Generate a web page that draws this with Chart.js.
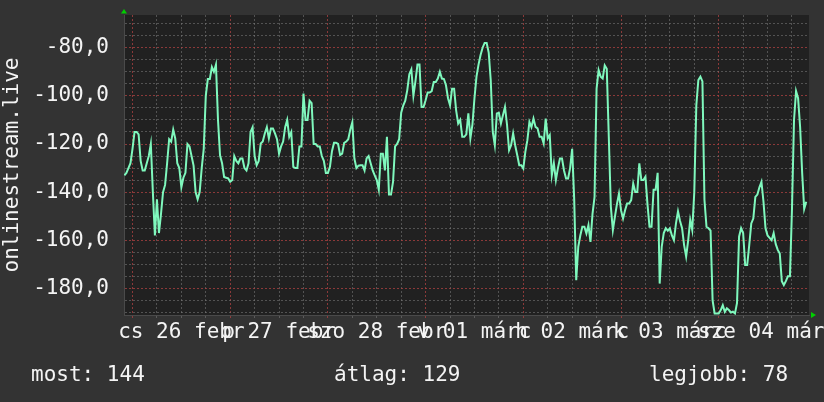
<!DOCTYPE html>
<html>
<head>
<meta charset="utf-8">
<script src="https://cdn.jsdelivr.net/npm/chart.js@4.4.1/dist/chart.umd.min.js"></script>
<style>
  html, body { margin: 0; padding: 0; background: #333333; }
  #wrap { width: 824px; height: 402px; }
</style>
</head>
<body>
<div id="wrap"><canvas id="ping" width="824" height="402"></canvas></div>
<script>
// half-hour samples, hours counted from 26 febr 00:00
const START_HOUR = -2;
const STEP_HOURS = 0.5;
const pingValues = [
  // -2h .. 18.5h
  -133, -132, -130, -128, -122, -115, -115, -116, -127, -131, -131, -128, -125, -120,
  -140, -158, -143, -157, -149, -140, -137, -128, -118, -119, -114, -117.7, -128, -130,
  -138, -134, -132, -120, -121, -125, -129, -140, -143, -140, -130, -122, -100, -93,
  // 19h .. 39.5h
  -93, -88, -90, -87, -110, -124.7, -128, -133.7, -134, -134.3, -135.7, -135, -125, -127,
  -128, -126, -126, -130, -131, -128, -115, -113, -125, -128.8, -127, -119.8, -119, -115.6,
  -113, -117.7, -113.6, -113.6, -115.6, -118, -124, -121, -119, -113, -110, -117, -115, -129.5,
  // 40h .. 60.5h
  -130, -130, -121, -121, -99, -110, -110, -102, -103, -120, -120, -121, -121, -125,
  -127, -132, -132, -129.5, -123, -119.5, -119.5, -120, -124.6, -124, -119.5, -119, -118, -114,
  -111, -126, -130, -129, -128.8, -128.8, -131, -126, -125, -128, -131, -133, -135, -139,
  // 61h .. 81.5h
  -124, -124, -131, -117, -141, -141, -135.7, -121, -120, -118, -107, -104, -102, -97.6,
  -91, -89, -100, -94, -87, -87, -104.6, -104.6, -101.8, -98.6, -98.6, -98, -94.2, -94.2,
  -92.8, -90, -92.8, -93, -95.6, -101, -103.9, -97, -97, -106, -111.5, -110, -117, -117,
  // 82h .. 102.5h
  -116, -107.3, -117.7, -112, -101, -92, -87, -83, -80, -78, -78, -82, -93.5, -115,
  -120.5, -107.3, -107, -111.5, -108, -104.6, -112, -122.6, -120.5, -115.6, -120.5, -124.6, -128.8, -128.8,
  -130.2, -123.3, -118.4, -110.8, -113, -109.4, -112.9, -113.5, -117, -117, -119.8, -109.4, -117.7, -116.3,
  // 103h .. 124h
  -133, -128, -135, -130, -126, -126, -131, -134.3, -134.3, -130, -122, -143, -176.6, -162.7,
  -158, -154.4, -154.4, -157.2, -153.7, -160.7, -149, -142, -97, -89.3, -92, -92.8, -87.3, -88.7,
  -117, -146, -155.8, -150.3, -145, -140.6, -147.5, -151, -147.5, -144.7, -144.7, -143.3, -136.4, -139.9,
  -139.9,
  // 124.5h .. 165.5h
  -128, -135, -135, -133.6, -145, -154.4, -154.4, -139, -139, -132, -178, -162.7, -157, -155,
  -156, -155, -158, -160, -153, -148, -152, -155, -162, -166.8, -160, -151.6, -155.8, -140,
  -104, -93.4, -92, -94, -143.3, -154.4, -155, -156, -185, -190.4, -190.4, -190.4, -189, -187,
  -189.7, -188.3, -189, -190, -189.7, -190.4, -186, -158.5, -155, -157, -170.3, -170.3, -162, -153,
  -151, -142, -141, -138, -135.7, -144, -155, -158, -159, -160, -157, -161.5, -164, -165.5,
  -177, -178.6, -177, -175, -175, -147, -110, -98, -101, -113, -132, -147, -144
];

const gridHours = [0, 6, 12, 18, 24, 30, 36, 42, 48, 54, 60, 66, 72, 78, 84, 90, 96, 102,
  108, 114, 120, 126, 132, 138, 144, 150, 156, 162];
const labelHours = [12, 36, 60, 84, 108, 132, 156];
const dayLabels = ['cs 26 febr', 'p 27 febr', 'szo 28 febr', 'v 01 márc', 'h 02 márc', 'k 03 márc', 'sze 04 márc'];
const yTicks = [-190, -185, -180, -175, -170, -165, -160, -155, -150, -145, -140, -135, -130,
  -125, -120, -115, -110, -105, -100, -95, -90, -85, -80, -75, -70];

const legendLabels = ['most', 'átlag', 'legjobb'];
const legendValues = [144, 129, 78];

const X_MIN = -2.09, X_MAX = 166.18;
const Y_MIN = -191.05, Y_MAX = -66.4;

const LINE_COLOR = '#7ff8bd';
const GRID_MINOR = 'rgba(125,125,125,0.55)';
const GRID_MAJOR = 'rgba(175,65,65,0.75)';
const TEXT = '#f4f4f4';
const FONT = { family: '"DejaVu Sans Mono", monospace', size: 21 };

const points = pingValues.map((v, i) => ({ x: START_HOUR + i * STEP_HOURS, y: v }));

const rrdLook = {
  id: 'rrdLook',
  beforeDraw(chart) {
    const { ctx, chartArea: a } = chart;
    ctx.save();
    ctx.fillStyle = '#333333';
    ctx.fillRect(0, 0, chart.width, chart.height);
    ctx.fillStyle = '#212121';
    ctx.fillRect(a.left, a.top, a.right - a.left, a.bottom - a.top);
    ctx.restore();
  },
  afterDraw(chart) {
    const { ctx, chartArea: a } = chart;
    ctx.save();
    // axis arrows
    ctx.fillStyle = '#00d000';
    ctx.beginPath();
    ctx.moveTo(a.left, a.top - 6);
    ctx.lineTo(a.left - 3, a.top - 1.5);
    ctx.lineTo(a.left + 3, a.top - 1.5);
    ctx.closePath();
    ctx.fill();
    ctx.beginPath();
    ctx.moveTo(a.right + 7, a.bottom);
    ctx.lineTo(a.right + 2, a.bottom - 3);
    ctx.lineTo(a.right + 2, a.bottom + 3);
    ctx.closePath();
    ctx.fill();
    // legend line
    ctx.fillStyle = TEXT;
    ctx.font = FONT.size + 'px ' + FONT.family;
    ctx.textBaseline = 'alphabetic';
    const xs = [31, 334, 649];
    legendLabels.forEach((t, i) => ctx.fillText(t + ': ' + legendValues[i], xs[i], 381));
    ctx.restore();
  }
};

new Chart(document.getElementById('ping'), {
  type: 'line',
  data: {
    datasets: [{
      data: points,
      borderColor: LINE_COLOR,
      borderWidth: 2,
      pointRadius: 0,
      tension: 0,
      fill: false,
    }],
  },
  options: {
    responsive: false,
    animation: false,
    devicePixelRatio: 1,
    events: [],
    layout: { padding: { top: 15, right: 15, bottom: 0, left: 0 } },
    plugins: { legend: { display: false }, tooltip: { enabled: false } },
    scales: {
      x: {
        type: 'linear',
        min: X_MIN,
        max: X_MAX,
        afterBuildTicks: (s) => { s.ticks = gridHours.map(v => ({ value: v })); },
        afterFit: (s) => { s.height = 87; s.paddingLeft = 0; s.paddingRight = 0; },
        grid: {
          color: (c) => (c.tick && c.tick.value % 24 === 0 ? GRID_MAJOR : GRID_MINOR),
          lineWidth: 1,
          tickLength: 3,
        },
        border: { display: true, color: '#4a4a4a', width: 1, dash: [2, 2] },
        ticks: {
          autoSkip: false,
          maxRotation: 0,
          minRotation: 0,
          color: TEXT,
          font: FONT,
          padding: 2,
          callback: (v) => {
            const k = labelHours.indexOf(v);
            return k >= 0 ? dayLabels[k] : '';
          },
        },
      },
      y: {
        min: Y_MIN,
        max: Y_MAX,
        afterBuildTicks: (s) => { s.ticks = yTicks.map(v => ({ value: v })); },
        afterFit: (s) => { s.width = 124; s.paddingTop = 0; s.paddingBottom = 0; },
        grid: {
          color: (c) => (c.tick && c.tick.value % 20 === 0 ? GRID_MAJOR : GRID_MINOR),
          lineWidth: 1,
          drawTicks: false,
        },
        border: { display: true, color: '#4a4a4a', width: 1, dash: [2, 2] },
        ticks: {
          autoSkip: false,
          color: TEXT,
          font: FONT,
          padding: 15,
          callback: (v) => (v % 20 === 0 ? v.toFixed(1).replace('.', ',') : ''),
        },
        title: {
          display: true,
          text: 'onlinestream.live',
          color: TEXT,
          font: FONT,
          padding: 0,
        },
      },
    },
  },
  plugins: [rrdLook],
});
</script>
</body>
</html>
